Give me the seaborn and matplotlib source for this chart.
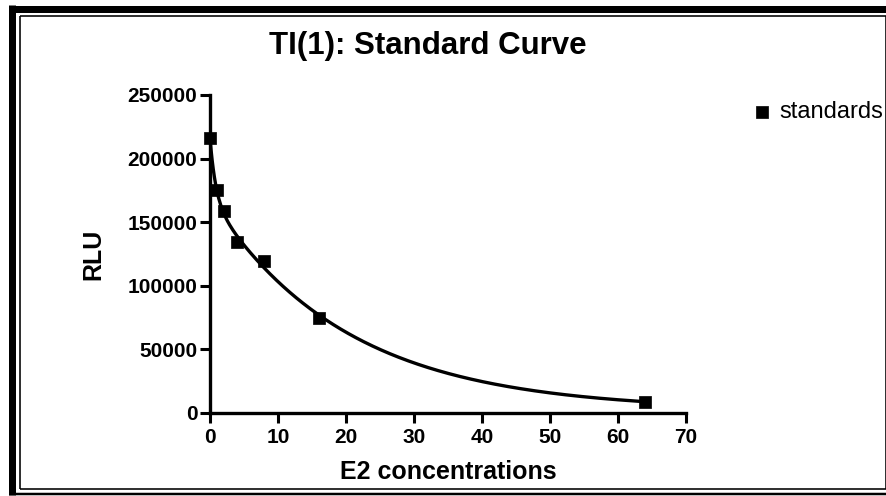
import numpy as np
import pandas as pd
import matplotlib
matplotlib.use("Agg")
import matplotlib.pyplot as plt
from matplotlib.lines import Line2D
import seaborn as sns

# ---- data ----
e2_conc = [0, 1, 2, 4, 8, 16, 64]
rlu = [216000, 175000, 158500, 134500, 119500, 74800, 9000]
x_ticks = [0, 10, 20, 30, 40, 50, 60, 70]
y_ticks = [0, 50000, 100000, 150000, 200000, 250000]
y_tick_labels = ["0", "50000", "100000", "150000", "200000", "250000"]
title_text = "TI(1): Standard Curve"
x_label = "E2 concentrations"
y_label = "RLU"
series_name = "standards"

# ---- two-phase decay fit to the standards (grid search + linear least squares) ----
xd = np.array(e2_conc, dtype=float)
yd = np.array(rlu, dtype=float)
best = None
for k1 in np.logspace(-2.5, 0, 120):
    for k2 in np.logspace(-1, 1.5, 120):
        if k2 <= k1:
            continue
        M = np.column_stack([np.exp(-k1 * xd), np.exp(-k2 * xd), np.ones_like(xd)])
        coef, *_ = np.linalg.lstsq(M, yd, rcond=None)
        if coef[0] < 0 or coef[1] < 0 or coef[2] < 0:
            continue
        sse = np.sum((M @ coef - yd) ** 2)
        if best is None or sse < best[0]:
            best = (sse, k1, k2, coef)
_, k1, k2, coef = best
xc = np.linspace(0, max(e2_conc), 400)
yc = coef[0] * np.exp(-k1 * xc) + coef[1] * np.exp(-k2 * xc) + coef[2]
pts = pd.DataFrame({"E2": e2_conc, "RLU": rlu})
curve = pd.DataFrame({"E2": xc, "RLU": yc})

# ---- style ----
sns.set_style("ticks", {"text.color": "black", "axes.labelcolor": "black",
                        "xtick.color": "black", "ytick.color": "black",
                        "axes.edgecolor": "black"})
plt.rcParams["font.family"] = ["Liberation Sans", "DejaVu Sans"]

W, H = 887, 496
fig = plt.figure(figsize=(W / 100, H / 100), dpi=100)
ax = fig.add_axes([210 / W, 1 - 413 / H, 476 / W, 318 / H])

sns.lineplot(data=curve, x="E2", y="RLU", ax=ax, color="black", linewidth=2.4,
             clip_on=False, legend=False)
sns.scatterplot(data=pts, x="E2", y="RLU", ax=ax, color="black", marker="s",
                s=80, edgecolor="black", linewidth=0.5, clip_on=False, zorder=5,
                label=series_name)

ax.set_xlim(0, 70)
ax.set_ylim(0, 250000)
ax.set_xticks(x_ticks)
ax.set_xticklabels([str(t) for t in x_ticks])
ax.set_yticks(y_ticks)
ax.set_yticklabels(y_tick_labels)
for lab in ax.get_xticklabels() + ax.get_yticklabels():
    lab.set_fontweight("bold")
ax.tick_params(axis="both", direction="out", length=7, width=2.2,
               labelsize=15, color="black", labelcolor="black")
ax.tick_params(axis="y", pad=2)
ax.tick_params(axis="x", pad=4)
sns.despine(ax=ax)
for sp in ["left", "bottom"]:
    ax.spines[sp].set_linewidth(2.4)
    ax.spines[sp].set_color("black")
ax.set_xlabel(x_label, fontsize=18, fontweight="bold", labelpad=9, color="black")
ax.set_ylabel(y_label, fontsize=18, fontweight="bold", labelpad=16, color="black")

fig.text(428 / W, 1 - 46 / H, title_text, ha="center", va="center",
         fontsize=22.5, fontweight="bold", color="black")

leg = ax.legend(loc="center left", bbox_to_anchor=(750 / W, 1 - 112 / H),
                bbox_transform=fig.transFigure, frameon=False, fontsize=17,
                handlelength=1.0, handletextpad=0.25, borderpad=0,
                borderaxespad=0, markerscale=1.0)
for t in leg.get_texts():
    t.set_color("black")

# ---- double frame around the figure ----
def fl(x0, y0, x1, y1, lw):
    fig.add_artist(Line2D([x0 / W, x1 / W], [1 - y0 / H, 1 - y1 / H],
                          transform=fig.transFigure, color="black",
                          linewidth=lw * 0.72, solid_capstyle="butt"))

fl(12.5, 5, 12.5, 495, 7)      # outer left (thick)
fl(9, 8.5, W, 8.5, 7)          # outer top (thick)
fl(9, 494, W, 494, 2.5)        # outer bottom
fl(20, 16, 20, 489, 1.6)       # inner left
fl(20, 16, 886, 16, 1.6)       # inner top
fl(20, 489, 886, 489, 1.6)     # inner bottom
fl(886, 16, 886, 489, 1.6)     # inner right

fig.savefig("out.png", dpi=100)
